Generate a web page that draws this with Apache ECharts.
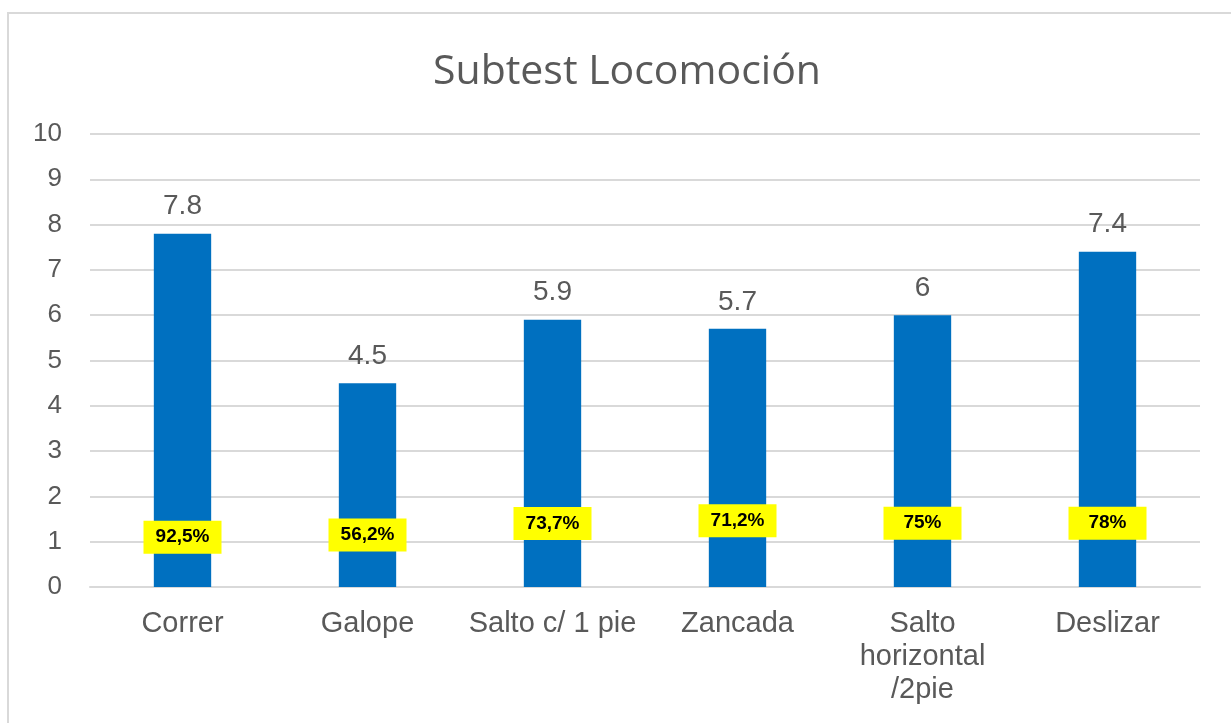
<!DOCTYPE html>
<html>
<head>
<meta charset="utf-8">
<script src="https://cdn.jsdelivr.net/npm/echarts@6/dist/echarts.min.js"></script>
<style>
html,body{margin:0;padding:0;background:#fff;}
#chart{width:1231px;height:723px;}
</style>
</head>
<body>
<div id="chart"></div>
<script>
const categories = ['Correr', 'Galope', 'Salto c/ 1 pie', 'Zancada', 'Salto\nhorizontal\n/2pie', 'Deslizar'];
const scores = [7.8, 4.5, 5.9, 5.7, 6, 7.4];
const percentLabels = ['92,5%', '56,2%', '73,7%', '71,2%', '75%', '78%'];
const percentLabelY = [1.10, 1.15, 1.40, 1.46, 1.41, 1.41];
const yTicks = [0, 1, 2, 3, 4, 5, 6, 7, 8, 9, 10];

const chart = echarts.init(document.getElementById('chart'));
chart.setOption({
  animation: false,
  backgroundColor: '#ffffff',
  graphic: [{
    type: 'rect',
    shape: { x: 8, y: 13, width: 1400, height: 900 },
    style: { fill: 'none', stroke: '#d9d9d9', lineWidth: 2 },
    silent: true, z: -1
  }],
  title: {
    text: 'Subtest Locomoción',
    left: 428,
    top: 47,
    textStyle: { fontFamily: 'Open Sans', fontWeight: 'normal', fontSize: 41, color: '#595959' }
  },
  grid: { left: 90, right: 31, top: 134, bottom: 136 },
  xAxis: {
    type: 'category',
    data: categories,
    axisLine: { show: true, lineStyle: { color: '#d9d9d9', width: 2 } },
    axisTick: { show: false },
    axisLabel: { fontFamily: 'Liberation Sans', fontSize: 29, color: '#595959', margin: 20, lineHeight: 33, interval: 0 }
  },
  yAxis: {
    type: 'value',
    min: yTicks[0],
    max: yTicks[yTicks.length - 1],
    interval: 1,
    axisLine: { show: false },
    axisTick: { show: false },
    splitLine: { lineStyle: { color: '#d9d9d9', width: 2 } },
    axisLabel: { fontFamily: 'Liberation Sans', fontSize: 26, color: '#595959', margin: 28 }
  },
  series: [{
    type: 'bar',
    data: scores,
    barWidth: '31%',
    itemStyle: { color: '#0070C0' },
    label: { show: true, position: 'top', distance: 13, fontFamily: 'Liberation Sans', fontSize: 28, color: '#595959' }
  }, {
    type: 'scatter',
    data: percentLabelY.map((v, i) => [i, v]),
    symbol: 'rect',
    symbolSize: [78, 33],
    itemStyle: { color: '#ffff00', opacity: 1 },
    emphasis: { disabled: true },
    z: 5,
    label: {
      show: true,
      position: 'inside',
      formatter: p => percentLabels[p.dataIndex],
      fontFamily: 'Liberation Sans', fontWeight: 'bold', fontSize: 19, color: '#000'
    }
  }]
});
</script>
</body>
</html>
